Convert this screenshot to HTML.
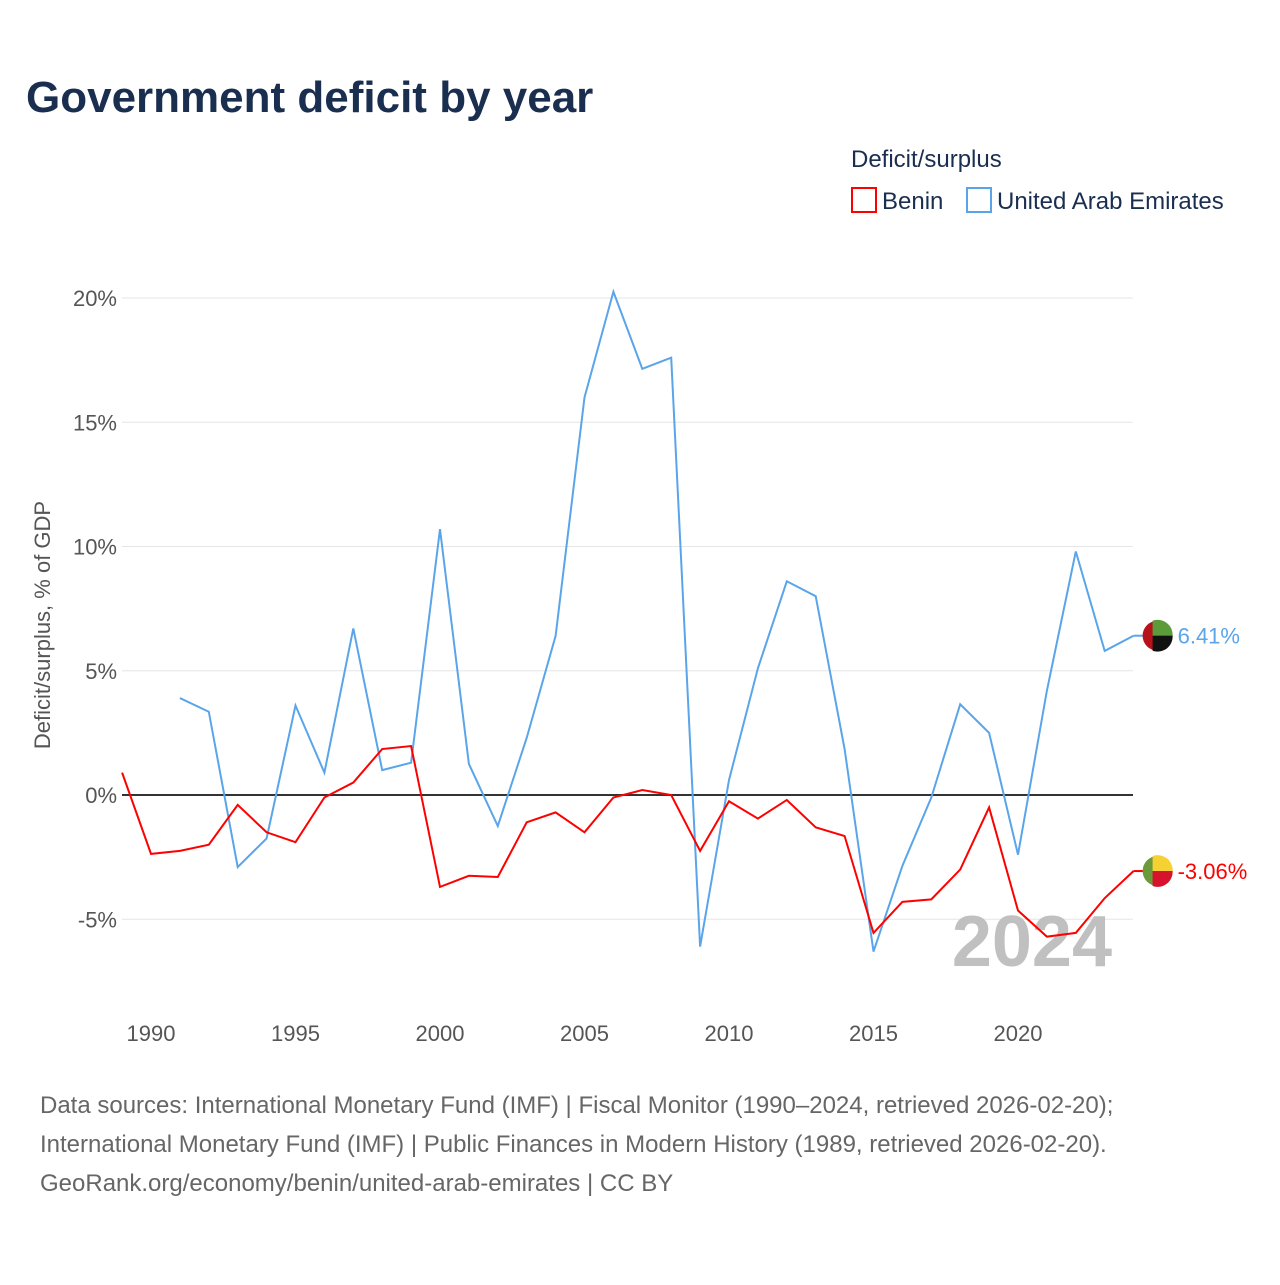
<!DOCTYPE html>
<html><head><meta charset="utf-8"><style>
body{margin:0;background:#fff;width:1280px;height:1280px;overflow:hidden;font-family:"Liberation Sans",sans-serif}
</style></head><body>
<svg width="1280" height="1280" xmlns="http://www.w3.org/2000/svg">
<text x="26" y="112" font-size="44" font-weight="bold" fill="#1a2e4f">Government deficit by year</text>
<text x="851" y="167" font-size="24" fill="#1a2e4f">Deficit/surplus</text>
<g><rect x="852" y="188" width="24" height="24" fill="none" stroke="#f00" stroke-width="2"/><text x="882" y="209" font-size="24" fill="#1a2e4f">Benin</text></g>
<g><rect x="967" y="188" width="24" height="24" fill="none" stroke="#5aa5ea" stroke-width="2"/><text x="997" y="209" font-size="24" fill="#1a2e4f">United Arab Emirates</text></g>
<g id="grid"></g>
<text transform="translate(50,625) rotate(-90)" text-anchor="middle" font-size="22" fill="#555">Deficit/surplus, % of GDP</text>
<text x="1112" y="966" text-anchor="end" font-size="72" font-weight="bold" fill="#c0c0c0">2024</text>
<g id="marks"></g>
<text x="40" y="1113" font-size="24" fill="#666">Data sources: International Monetary Fund (IMF) | Fiscal Monitor (1990–2024, retrieved 2026-02-20);</text>
<text x="40" y="1152" font-size="24" fill="#666">International Monetary Fund (IMF) | Public Finances in Modern History (1989, retrieved 2026-02-20).</text>
<text x="40" y="1191" font-size="24" fill="#666">GeoRank.org/economy/benin/united-arab-emirates | CC BY</text>
</svg>
<script>
const benYears=[1989,1990,1991,1992,1993,1994,1995,1996,1997,1998,1999,2000,2001,2002,2003,2004,2005,2006,2007,2008,2009,2010,2011,2012,2013,2014,2015,2016,2017,2018,2019,2020,2021,2022,2023,2024];
const benin=[0.9,-2.37,-2.25,-2.0,-0.4,-1.5,-1.9,-0.1,0.5,1.85,1.97,-3.7,-3.25,-3.3,-1.1,-0.7,-1.5,-0.1,0.2,0,-2.25,-0.25,-0.95,-0.2,-1.3,-1.65,-5.55,-4.3,-4.2,-3.0,-0.5,-4.65,-5.7,-5.55,-4.15,-3.06];
const uaeYears=[1991,1992,1993,1994,1995,1996,1997,1998,1999,2000,2001,2002,2003,2004,2005,2006,2007,2008,2009,2010,2011,2012,2013,2014,2015,2016,2017,2018,2019,2020,2021,2022,2023,2024];
const uae=[3.9,3.35,-2.9,-1.75,3.6,0.9,6.7,1.0,1.3,10.7,1.25,-1.25,2.3,6.4,16.0,20.25,17.15,17.6,-6.1,0.6,5.1,8.6,8.0,1.85,-6.3,-2.85,-0.1,3.65,2.5,-2.4,4.2,9.8,5.8,6.41];
const yTicks=[-5,0,5,10,15,20];
const xTicks=[1990,1995,2000,2005,2010,2015,2020];
const NS="http://www.w3.org/2000/svg";
const X=y=>151+(y-1990)*28.9;
const Y=v=>795-v*24.85;
function mk(t,a,p){const e=document.createElementNS(NS,t);for(const k in a)e.setAttribute(k,a[k]);p.appendChild(e);return e;}
const g=document.getElementById('grid'),m=document.getElementById('marks');
yTicks.forEach(v=>{
 const l=mk('line',{x1:122,x2:1133,y1:Y(v),y2:Y(v),stroke:v===0?'#333':'#e6e6e6','stroke-width':v===0?2:1},g);
 
 
 const t=mk('text',{x:117,y:Y(v)+8,'text-anchor':'end','font-size':22,fill:'#555'},g);
 t.textContent=v+'%';
 
 
});
xTicks.forEach(y=>{
 const t=mk('text',{x:X(y),y:1041,'text-anchor':'middle','font-size':22,fill:'#555'},g);
 t.textContent=y;
 
 
});
function line(ys,vs,c,name){
 const p=mk('polyline',{points:ys.map((y,i)=>X(y)+','+Y(vs[i])).join(' '),fill:'none',stroke:c,'stroke-width':2},m);
 
 
}
line(uaeYears,uae,'#5aa5ea','uae-line');
line(benYears,benin,'#f00','benin-line');
function endLabel(ys,vs,c,name,cols){
 const v=vs[vs.length-1],x=X(ys[ys.length-1]),y=Y(v);
 mk('line',{x1:x,x2:x+12,y1:y,y2:y,stroke:c,'stroke-width':2},m);
 const cx=x+24;
 const f=mk('g',{},m);
 
 
 mk('circle',{cx:cx,cy:y,r:15,fill:cols[0]},f);
 mk('path',{d:`M${cx-5},${y-15}A15,15 0 0 1 ${cx+15},${y}L${cx-5},${y}Z`,fill:cols[1]},f);
 mk('path',{d:`M${cx-5},${y}L${cx+15},${y}A15,15 0 0 1 ${cx-5},${y+15}Z`,fill:cols[2]},f);
 const t=mk('text',{x:cx+20,y:y+8,'font-size':22,fill:c},m);
 t.textContent=v.toFixed(2)+'%';
 
 
}
endLabel(uaeYears,uae,'#5aa5ea','uae',['#b5121b','#5c9b3a','#111']);
endLabel(benYears,benin,'#f00','benin',['#6a9a3a','#f5d134','#d6122c']);
</script>
</body></html>
